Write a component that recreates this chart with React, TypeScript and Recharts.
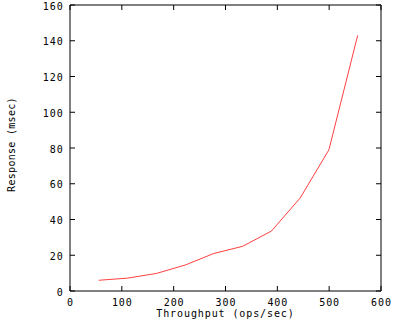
import React from 'react';
import { LineChart, Line, XAxis, YAxis } from 'recharts';

const throughput = [55.5, 111, 166.5, 222, 277.5, 333, 388.5, 444, 499.5, 555];
const response = [6, 7.2, 9.8, 14.5, 21, 25, 33.5, 52, 79, 143];
const xTicks = [0, 100, 200, 300, 400, 500, 600];
const yTicks = [0, 20, 40, 60, 80, 100, 120, 140, 160];

const data = throughput.map((x, i) => ({ x, y: response[i] }));

const FONT = '"DejaVu Sans Mono", "Liberation Mono", monospace';
const FS = 10;
const LS = 0.9;
const TICK = 5;

const BottomTick = (p: any) => (
  <g>
    <line x1={p.x} x2={p.x} y1={p.y} y2={p.y - TICK} stroke="#000" />
    <text x={p.x + LS / 2} y={p.y + 15.3} textAnchor="middle" fill="#000" fontSize={FS} letterSpacing={LS} fontFamily={FONT}>
      {p.payload.value}
    </text>
  </g>
);

const LeftTick = (p: any) => (
  <g>
    <line x1={p.x} x2={p.x + TICK} y1={p.y} y2={p.y} stroke="#000" />
    <text x={p.x - 7.3 + LS} y={p.y + 4.5} textAnchor="end" fill="#000" fontSize={FS} letterSpacing={LS} fontFamily={FONT}>
      {p.payload.value}
    </text>
  </g>
);

const TopTick = (p: any) => (
  <line x1={p.x} x2={p.x} y1={p.y} y2={p.y + TICK} stroke="#000" />
);

const RightTick = (p: any) => (
  <line x1={p.x} x2={p.x - TICK} y1={p.y} y2={p.y} stroke="#000" />
);

const YLabel = (props: any) => {
  const vb = props.viewBox || {};
  const cx = 11.5;
  const cy = (vb.y ?? 0) + (vb.height ?? 0) / 2 - 3.5;
  return (
    <text
      x={cx}
      y={cy}
      transform={`rotate(-90 ${cx} ${cy})`}
      textAnchor="middle"
      dominantBaseline="central"
      fill="#000"
      fontSize={FS}
      letterSpacing={0.3}
      fontFamily={FONT}
    >
      Response (msec)
    </text>
  );
};

export default function App() {
  return (
    <div style={{ position: 'absolute', left: 0, top: 0, width: 400, height: 320, background: '#fff', fontFamily: FONT, fontSize: FS }}>
      <LineChart width={400} height={320} data={data} margin={{ top: 4, right: 18, bottom: 0, left: 0 }}>
        <XAxis
          dataKey="x"
          type="number"
          domain={[0, 600]}
          ticks={xTicks}
          interval={0}
          height={29}
          stroke="#000"
          tickLine={false}
          tickSize={0}
          tickMargin={0}
          tick={BottomTick}
          label={{ value: 'Throughput (ops/sec)', position: 'insideBottom', offset: 2.7, fill: '#000', fontSize: FS, letterSpacing: LS, fontFamily: FONT }}
        />
        <XAxis
          xAxisId="top"
          orientation="top"
          dataKey="x"
          type="number"
          domain={[0, 600]}
          ticks={xTicks}
          interval={0}
          height={1}
          stroke="#000"
          tickLine={false}
          tickSize={0}
          tickMargin={0}
          tick={TopTick}
        />
        <YAxis
          type="number"
          domain={[0, 160]}
          ticks={yTicks}
          interval={0}
          width={70}
          stroke="#000"
          tickLine={false}
          tickSize={0}
          tickMargin={0}
          tick={LeftTick}
          label={{ content: YLabel }}
        />
        <YAxis
          yAxisId="right"
          orientation="right"
          type="number"
          domain={[0, 160]}
          ticks={yTicks}
          interval={0}
          width={1}
          stroke="#000"
          tickLine={false}
          tickSize={0}
          tickMargin={0}
          tick={RightTick}
        />
        <Line
          type="linear"
          dataKey="y"
          stroke="#ff4040"
          strokeWidth={1}
          dot={false}
          isAnimationActive={false}
        />
        <Line
          xAxisId="top"
          yAxisId="right"
          type="linear"
          dataKey="y"
          stroke="none"
          strokeWidth={0}
          dot={false}
          activeDot={false}
          legendType="none"
          isAnimationActive={false}
        />
      </LineChart>
    </div>
  );
}
